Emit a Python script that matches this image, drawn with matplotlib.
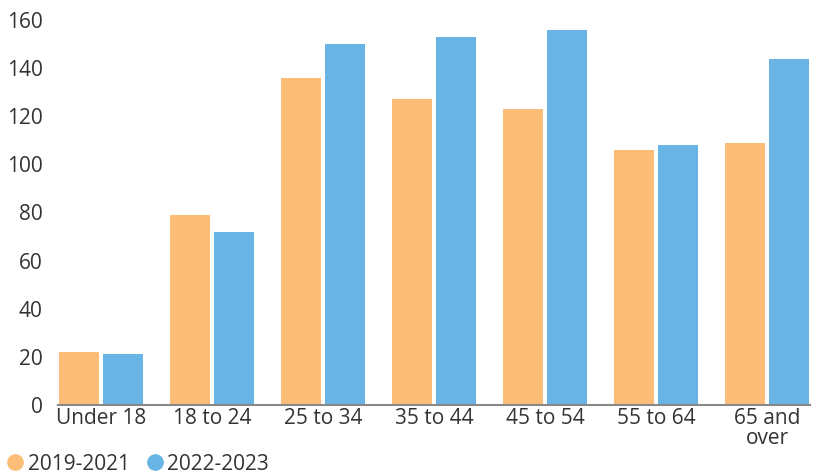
import matplotlib.pyplot as plt
import numpy as np
from matplotlib.lines import Line2D

categories = ["Under 18", "18 to 24", "25 to 34", "35 to 44", "45 to 54", "55 to 64", "65 and\nover"]
period_2019_2021 = [22, 79, 136, 127, 123, 106, 109]
period_2022_2023 = [21, 72, 150, 153, 156, 108, 144]
series_labels = ["2019-2021", "2022-2023"]
colors = ["#FBBD77", "#68B4E4"]
text_color = "#333333"

plt.rcParams['font.family'] = ['Open Sans', 'DejaVu Sans']

fig = plt.figure(figsize=(8.17, 4.76), dpi=100)
ax = fig.add_axes([58 / 817, 1 - 405 / 476, 752 / 817, 385 / 476])

x = np.arange(len(categories))
w = 0.36
gap = 0.036
ax.bar(x - (w + gap) / 2, period_2019_2021, width=w, color=colors[0])
ax.bar(x + (w + gap) / 2, period_2022_2023, width=w, color=colors[1])

ax.set_xlim(-0.387, len(categories) - 1 + 0.387)
ax.set_ylim(0, 160)
ax.set_yticks(range(0, 161, 20))
ax.set_xticks(x)
ax.set_xticklabels(categories, linespacing=0.95)

for side in ["top", "right", "left"]:
    ax.spines[side].set_visible(False)
ax.spines["bottom"].set_color("#888888")
ax.spines["bottom"].set_linewidth(1.5)
ax.tick_params(axis="both", length=0, labelsize=15, colors=text_color)
ax.tick_params(axis="y", pad=11)
ax.tick_params(axis="x", pad=2)

handles = [Line2D([], [], marker="o", linestyle="", markersize=11, color=c) for c in colors]
fig.legend(handles, series_labels, loc="center left", bbox_to_anchor=(-0.004, 1 - 464 / 476),
           ncol=2, frameon=False, fontsize=15, handletextpad=0.1, columnspacing=0.7,
           handlelength=1.0, borderaxespad=0, labelcolor=text_color)

fig.savefig("out.png", dpi=100)
